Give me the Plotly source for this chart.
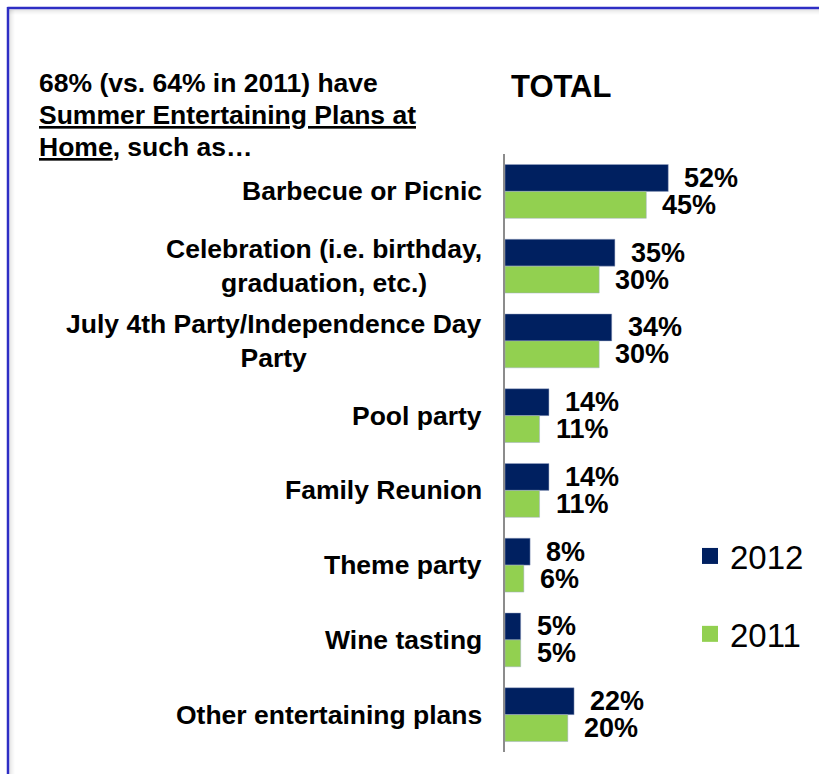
import plotly.graph_objects as go

# Survey results: share of respondents with each summer entertaining plan
categories = [
    "Barbecue or Picnic",
    "Celebration (i.e. birthday,<br>graduation, etc.)",
    "July 4th Party/Independence Day<br>Party",
    "Pool party",
    "Family Reunion",
    "Theme party",
    "Wine tasting",
    "Other entertaining plans",
]
values_2012 = [52, 35, 34, 14, 14, 8, 5, 22]
values_2011 = [45, 30, 30, 11, 11, 6, 5, 20]
series_names = ["2012", "2011"]
heading_lines = [
    "<b>68% (vs. 64% in 2011) have</b>",
    "<b><u>Summer Entertaining Plans at</u></b>",
    "<b><u>Home</u>, such as…</b>",
]

NAVY = "#002060"
GREEN = "#92D050"
FONT = "Liberation Sans, Arial, sans-serif"

W, H = 819, 774
L, R, T, B = 505, 14, 154, 22
plot_w = W - L - R
px_per_pct = 3.14
x_max = plot_w / px_per_pct

fig = go.Figure()
for name, vals, color in [
    (series_names[0], values_2012, NAVY),
    (series_names[1], values_2011, GREEN),
]:
    fig.add_trace(go.Bar(
        y=categories, x=vals, name=name, orientation="h",
        marker=dict(color=color, line=dict(color="rgba(160,170,200,0.6)", width=0.8)),
        showlegend=False, hoverinfo="skip",
    ))

# legend entries with square swatches
for name, color, grp in [(series_names[0], NAVY, "a"), (series_names[1], GREEN, "b")]:
    fig.add_trace(go.Scatter(
        x=[None], y=[None], mode="markers", name=name, legendgroup=grp,
        marker=dict(symbol="square", size=16, color=color),
    ))

n = len(categories)

# value labels to the right of each bar
for i in range(n):
    for vals, dy in [(values_2012, -0.18), (values_2011, 0.18)]:
        fig.add_annotation(
            x=vals[i], y=i + dy, xref="x", yref="y",
            text=f"<b>{vals[i]}%</b>", showarrow=False,
            xanchor="left", yanchor="middle", xshift=14,
            font=dict(family=FONT, size=27, color="black"),
        )

# category labels: lines centred on each other, block right-aligned at the axis
for i, cat in enumerate(categories):
    text = "<br>".join(f"<b>{s}</b>" for s in cat.split("<br>"))
    fig.add_annotation(
        x=0, y=i, xref="paper", yref="y",
        text=text, showarrow=False,
        xanchor="right", yanchor="middle", xshift=-21, align="center",
        font=dict(family=FONT, size=26.5, color="black"),
    )

def px_x(p):
    return (p - L) / plot_w

def px_y(p):
    return 1 - (p - T) / (H - T - B)

# heading text, one line at a time
for k, line in enumerate(heading_lines):
    fig.add_annotation(
        x=px_x(37), y=px_y(83 + 32 * k), xref="paper", yref="paper",
        text=line, showarrow=False, xanchor="left", yanchor="middle", align="left",
        font=dict(family=FONT, size=26.5, color="black"),
    )
fig.add_annotation(
    x=px_x(509), y=px_y(87), xref="paper", yref="paper",
    text="<b>TOTAL</b>", showarrow=False, xanchor="left", yanchor="middle",
    font=dict(family=FONT, size=31, color="black"),
)

# frame: soft shading then blue border along top and left
shapes = []
for k, a in enumerate([0.10, 0.07, 0.05, 0.03, 0.015]):
    shapes.append(dict(type="line", xref="paper", yref="paper",
                       x0=px_x(9), x1=px_x(W + 5), y0=px_y(10 + k), y1=px_y(10 + k),
                       line=dict(color=f"rgba(0,0,0,{a})", width=1)))
    shapes.append(dict(type="line", xref="paper", yref="paper",
                       x0=px_x(10 + k), x1=px_x(10 + k), y0=px_y(10), y1=px_y(H + 5),
                       line=dict(color=f"rgba(0,0,0,{a})", width=1)))
shapes.append(dict(type="line", xref="paper", yref="paper",
                   x0=px_x(7.5), x1=px_x(W + 5), y0=px_y(8), y1=px_y(8),
                   line=dict(color="#2E2EC4", width=2.5)))
shapes.append(dict(type="line", xref="paper", yref="paper",
                   x0=px_x(8), x1=px_x(8), y0=px_y(7), y1=px_y(H + 5),
                   line=dict(color="#2E2EC4", width=2.5)))

fig.update_layout(
    width=W, height=H,
    margin=dict(l=L, r=R, t=T, b=B, autoexpand=False),
    paper_bgcolor="white", plot_bgcolor="white",
    barmode="group", bargap=0.28, bargroupgap=0,
    shapes=shapes,
    showlegend=True,
    legend=dict(
        x=px_x(690), y=px_y(528), xanchor="left", yanchor="top",
        font=dict(family=FONT, size=33, color="black"),
        traceorder="grouped", tracegroupgap=32,
        itemwidth=30, bgcolor="rgba(0,0,0,0)",
    ),
    xaxis=dict(range=[0, x_max], visible=False, fixedrange=True),
    yaxis=dict(
        range=[n - 0.5, -0.5], showticklabels=False, ticks="",
        showline=True, linecolor="#8C8C8C", linewidth=2,
        showgrid=False, zeroline=False, fixedrange=True,
    ),
)

fig.write_html("out.html")
